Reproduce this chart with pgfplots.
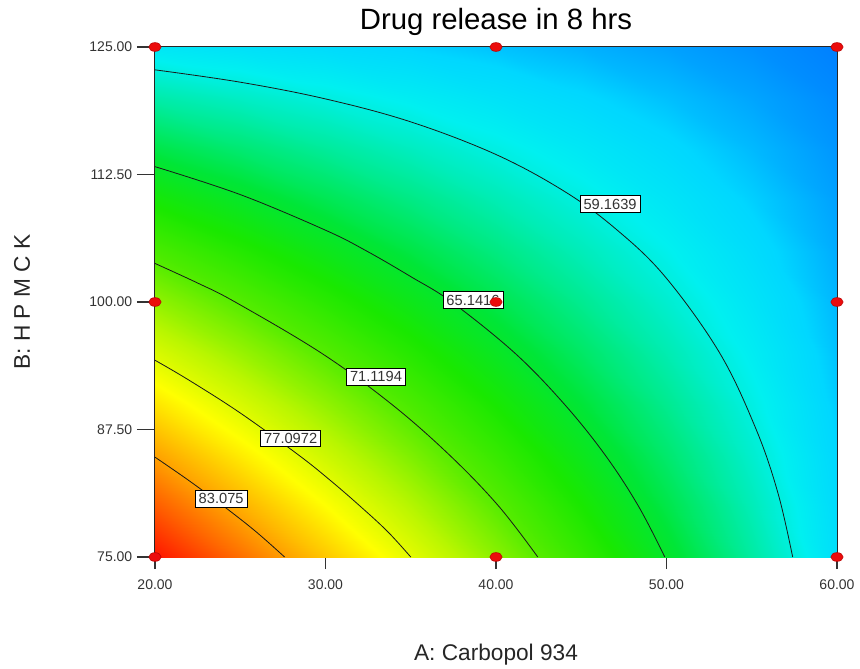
\documentclass[border=0pt]{standalone}
\usepackage{pgfplots}
\pgfplotsset{compat=1.18}
\usepackage{fontspec}
\setmainfont{Liberation Sans}

% response colour scale: low release blue, high release red
\pgfplotsset{
  colormap={release}{
    rgb255(0pt)=(0,128,255)
    rgb255(23pt)=(0,215,255)
    rgb255(43pt)=(0,240,240)
    rgb255(68pt)=(0,236,165)
    rgb255(103pt)=(0,230,55)
    rgb255(133pt)=(25,232,0)
    rgb255(168pt)=(85,236,0)
    rgb255(208pt)=(185,246,0)
    rgb255(243pt)=(255,255,0)
    rgb255(288pt)=(255,160,0)
    rgb255(350pt)=(255,20,0)
  }
}

\definecolor{ptred}{RGB}{235,12,12}
\definecolor{ptedge}{RGB}{185,0,0}

\begin{document}
\begin{tikzpicture}
\useasboundingbox (-116.25pt,-83.25pt) rectangle (528.75pt,417.75pt);
\begin{axis}[
  at={(0,0)}, anchor=south west,
  scale only axis, width=511.5pt, height=382.5pt,
  xmin=20, xmax=60, ymin=75, ymax=125,
  xtick={20,30,40,50,60},
  xticklabels={20.00,30.00,40.00,50.00,60.00},
  ytick={75,87.5,100,112.5,125},
  yticklabels={75.00,87.50,100.00,112.50,125.00},
  tick align=outside, xtick pos=bottom, ytick pos=left,
  major tick length=13.5pt,
  xtick style={/pgfplots/major tick length=9pt},
  tick style={black!80, line width=0.8pt},
  ticklabel style={font=\fontsize{10.5}{12}\selectfont, text=black!80},
  axis line style={black!85, line width=0.8pt},
  colormap name=release,
  point meta min=54.25, point meta max=89.25,
  clip=false,
  title={Drug release in 8 hrs},
  title style={at={(axis description cs:0.5,1.049)}, anchor=center, yshift=-6pt,
               font=\fontsize{22}{26}\selectfont},
  xlabel={A: Carbopol 934},
  xlabel style={at={(axis description cs:0.5,-0.192)}, anchor=center,
                font=\fontsize{17}{20}\selectfont, text=black!85},
  ylabel={B: H P M C K},
  ylabel style={at={(axis description cs:-0.195,0.5)}, anchor=center,
                font=\fontsize{17}{20}\selectfont, text=black!85},
]

% fitted response surface, % released at 8 h
\addplot[surf, shader=interp, mesh/cols=9, point meta=\thisrow{f}]
  table[x=A, y=B] {
A  B   f
20 75  89.25
25 75  85.24
30 75  81.23
35 75  77.21
40 75  73.20
45 75  69.19
50 75  65.18
55 75  61.16
60 75  57.15
20 80  86.10
25 80  82.34
30 80  78.60
35 80  74.90
40 80  71.23
45 80  67.59
50 80  63.98
55 80  60.41
60 80  56.86
20 85  82.95
25 85  79.45
30 85  76.02
35 85  72.64
40 85  69.31
45 85  66.04
50 85  62.83
55 85  59.67
60 85  56.57
20 90  79.80
25 90  76.60
30 90  73.48
35 90  70.43
40 90  67.45
45 90  64.55
50 90  61.72
55 90  58.96
60 90  56.28
20 95  76.65
25 95  73.78
30 95  70.99
35 95  68.27
40 95  65.65
45 95  63.11
50 95  60.66
55 95  58.28
60 95  55.99
20 100 73.50
25 100 70.97
30 100 68.53
35 100 66.17
40 100 63.90
45 100 61.72
50 100 59.63
55 100 57.62
60 100 55.70
20 105 70.35
25 105 68.19
30 105 66.12
35 105 64.12
40 105 62.21
45 105 60.38
50 105 58.65
55 105 56.99
60 105 55.41
20 110 67.20
25 110 65.43
30 110 63.74
35 110 62.12
40 110 60.57
45 110 59.10
50 110 57.70
55 110 56.37
60 110 55.12
20 115 64.05
25 115 62.70
30 115 61.41
35 115 60.17
40 115 58.99
45 115 57.87
50 115 56.80
55 115 55.78
60 115 54.83
20 120 60.90
25 120 60.00
30 120 59.12
35 120 58.28
40 120 57.47
45 120 56.69
50 120 55.94
55 120 55.23
60 120 54.54
20 125 57.75
25 125 57.31
30 125 56.88
35 125 56.44
40 125 56.00
45 125 55.56
50 125 55.13
55 125 54.69
60 125 54.25
};

% contour lines
\pgfplotsset{contourline/.style={black!90, line width=0.6pt, smooth, tension=0.6}}
\addplot[contourline] coordinates {(20,122.76) (25,121.55) (30,119.91) (35,117.66) (40,114.46) (44,110.86) (47,107.2) (49.91,102.5) (53.12,95) (55.26,87.5) (56.54,81.25) (57.4,75)};
\addplot[contourline] coordinates {(20,113.27) (25,110.53) (30,107.04) (32.41,105) (35,102.49) (37.4,100) (41.1,95) (44.0,90) (46.4,85) (48.35,80) (49.9,75)};
\addplot[contourline] coordinates {(20,103.78) (22.5,101.86) (24.7,100) (29.75,95) (33.86,90) (37.27,85) (40.15,80) (42.45,75)};
\addplot[contourline] coordinates {(20,94.29) (22,92.33) (25,89.12) (28.42,85) (30.29,82.5) (32.02,80) (33.64,77.5) (35.0,75)};
\addplot[contourline] coordinates {(20,84.79) (22,82.48) (24.01,80) (25.91,77.5) (27.6,75)};

% contour level labels
\tikzset{lvl/.style={fill=white, draw=black, line width=0.5pt, inner xsep=2.6pt, inner ysep=2.4pt,
  font=\fontsize{11}{12}\selectfont, text=black!80}}
\node[lvl] at (axis cs:46.69,109.6) {59.1639};
\node[lvl] at (axis cs:38.65,100.2) {65.1416};
\node[lvl] at (axis cs:32.96,92.7) {71.1194};
\node[lvl] at (axis cs:27.96,86.64) {77.0972};
\node[lvl] at (axis cs:23.88,80.7) {83.075};

% design points
\addplot[only marks, mark=*, mark size=3.3pt,
  mark options={xscale=1.4, fill=ptred, draw=ptedge, line width=0.4pt}]
  coordinates {(20,75) (40,75) (60,75) (20,100) (40,100) (60,100) (20,125) (40,125) (60,125)};
\end{axis}
\end{tikzpicture}
\end{document}
